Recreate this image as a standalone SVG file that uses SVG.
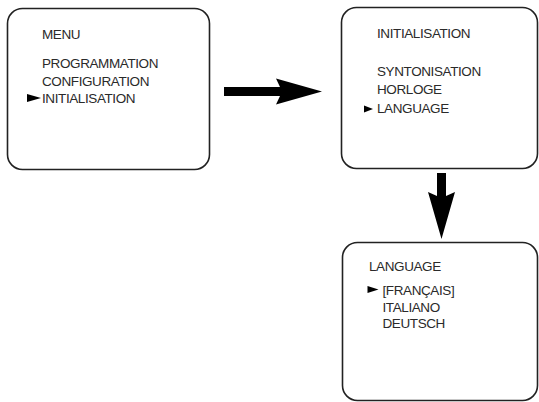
<svg xmlns="http://www.w3.org/2000/svg" width="539" height="402" viewBox="0 0 539 402">
<style>
.box{fill:#fff;stroke:#222;stroke-width:1.6}
.t{font-family:"Liberation Sans",Arial,sans-serif;font-size:13.5px;letter-spacing:-0.4px;fill:#2a2a2a}
.arr{fill:#000}
</style>
<rect width="539" height="402" fill="#fff"/>
<g id="node-menu">
<rect class="box" x="7.5" y="8.5" width="202" height="161" rx="15"/>
<text class="t" x="42" y="39">MENU</text>
<text class="t" x="42" y="68.3">PROGRAMMATION</text>
<text class="t" x="42" y="85.5">CONFIGURATION</text>
<path class="arr" d="M27,94 L41,98 L27,102 Z"/>
<text class="t" x="42" y="102.5">INITIALISATION</text>
</g>
<g id="node-init">
<rect class="box" x="341.5" y="7.5" width="196" height="161" rx="15"/>
<text class="t" x="377" y="38">INITIALISATION</text>
<text class="t" x="377" y="76">SYNTONISATION</text>
<text class="t" x="377" y="94">HORLOGE</text>
<path class="arr" d="M364,105.5 L373,109 L364,112.5 Z"/>
<text class="t" x="377" y="113">LANGUAGE</text>
</g>
<g id="node-language">
<rect class="box" x="342.5" y="242.5" width="195" height="158" rx="15"/>
<text class="t" x="369" y="271">LANGUAGE</text>
<path class="arr" d="M367.5,286 L378.5,289.5 L367.5,293 Z"/>
<text class="t" x="382.5" y="295">[FRANÇAIS]</text>
<text class="t" x="382.5" y="311.7">ITALIANO</text>
<text class="t" x="382.5" y="328.3">DEUTSCH</text>
</g>
<g id="connectors">
<path class="arr" d="M224,87 L280,87 L276,78.5 L322,91.5 L276,104.5 L280,96 L224,96 Z"/>
<path class="arr" d="M437,173 L446,173 L446,196 L455,192 L441.5,239 L428,192 L437,196 Z"/>
</g>
</svg>
